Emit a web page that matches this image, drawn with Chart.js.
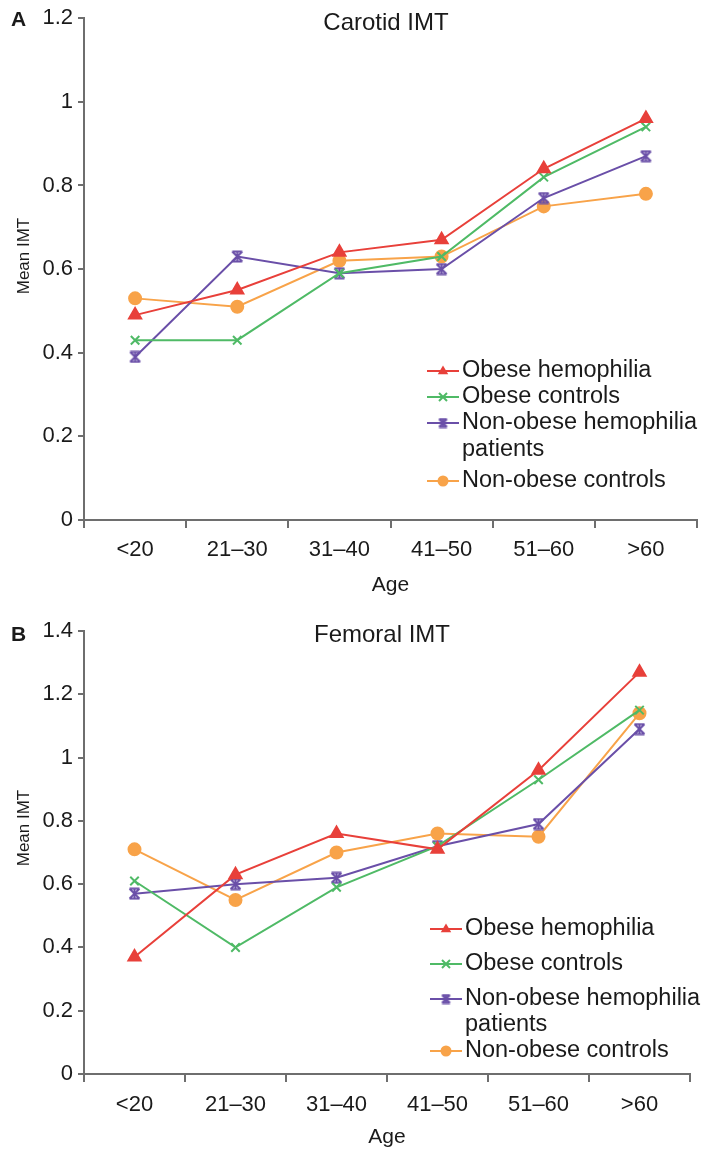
<!DOCTYPE html>
<html>
<head>
<meta charset="utf-8">
<style>
html,body{margin:0;padding:0;background:#fff;}
#wrap{position:relative;width:707px;height:1150px;overflow:hidden;}
.box{position:absolute;left:0;width:707px;}
canvas{display:block;}
</style>
<script src="https://cdn.jsdelivr.net/npm/chart.js"></script>
</head>
<body>
<div id="wrap">
  <div class="box" style="top:0;height:600px"><canvas id="c1" width="707" height="600"></canvas></div>
  <div class="box" style="top:600px;height:553px"><canvas id="c2" width="707" height="553"></canvas></div>
</div>
<script>
// ---------- data ----------
const ageGroups = ['<20', '21–30', '31–40', '41–50', '51–60', '>60'];
const seriesLabels = ['Obese hemophilia', 'Obese controls', 'Non-obese hemophilia patients', 'Non-obese controls'];
const legendTexts = [['Obese hemophilia'], ['Obese controls'], ['Non-obese hemophilia', 'patients'], ['Non-obese controls']];

const carotidObeseHemophilia    = [0.49, 0.55, 0.64, 0.67, 0.84, 0.96];
const carotidObeseControls      = [0.43, 0.43, 0.59, 0.63, 0.82, 0.94];
const carotidNonObeseHemophilia = [0.39, 0.63, 0.59, 0.60, 0.77, 0.87];
const carotidNonObeseControls   = [0.53, 0.51, 0.62, 0.63, 0.75, 0.78];

const femoralObeseHemophilia    = [0.37, 0.63, 0.76, 0.71, 0.96, 1.27];
const femoralObeseControls      = [0.61, 0.40, 0.59, 0.72, 0.93, 1.15];
const femoralNonObeseHemophilia = [0.57, 0.60, 0.62, 0.72, 0.79, 1.09];
const femoralNonObeseControls   = [0.71, 0.55, 0.70, 0.76, 0.75, 1.14];

const carotidYTicks = [0, 0.2, 0.4, 0.6, 0.8, 1, 1.2];
const femoralYTicks = [0, 0.2, 0.4, 0.6, 0.8, 1, 1.2, 1.4];

// ---------- styles ----------
const FONT = '"Liberation Sans", Arial, Helvetica, sans-serif';
const TXT = '#1a1a1a';
const AXIS = '#6e6e6e';
const colors = ['#e8403a', '#4fba66', '#6a4fa8', '#f8a349'];

function makeStar(color, size) {
  const c = document.createElement('canvas');
  c.width = size; c.height = size;
  const g = c.getContext('2d');
  const a = 1.5, b = size - 1.5, m = size / 2;
  g.strokeStyle = color; g.lineWidth = 2; g.lineCap = 'butt';
  g.beginPath();
  g.moveTo(a, a); g.lineTo(b, b);
  g.moveTo(b, a); g.lineTo(a, b);
  g.moveTo(m, 0.5); g.lineTo(m, size - 0.5);
  g.moveTo(a, a); g.lineTo(b, a);
  g.moveTo(a, b); g.lineTo(b, b);
  g.stroke();
  return c;
}
const starImg = makeStar(colors[2], 13);
const starLegendImg = makeStar(colors[2], 11);
const pointStyles = ['triangle', 'crossRot', starImg, 'circle'];
const pointRadii = [7, 6, 6, 6];

function drawMarker(ctx, idx, x, y) {
  const col = colors[idx];
  ctx.save();
  ctx.fillStyle = col; ctx.strokeStyle = col; ctx.lineWidth = 2;
  if (idx === 0) {
    const r = 5.5;
    ctx.beginPath();
    ctx.moveTo(x, y - r);
    ctx.lineTo(x + r * 0.95, y + r * 0.6);
    ctx.lineTo(x - r * 0.95, y + r * 0.6);
    ctx.closePath(); ctx.fill();
  } else if (idx === 1) {
    const r = 4;
    ctx.beginPath();
    ctx.moveTo(x - r, y - r); ctx.lineTo(x + r, y + r);
    ctx.moveTo(x + r, y - r); ctx.lineTo(x - r, y + r);
    ctx.stroke();
  } else if (idx === 2) {
    ctx.drawImage(starLegendImg, x - 5.5, y - 5.5, 11, 11);
  } else {
    ctx.beginPath(); ctx.arc(x, y, 5.5, 0, Math.PI * 2); ctx.fill();
  }
  ctx.restore();
}

const decorPlugin = {
  id: 'decor',
  afterDraw(chart, args, o) {
    const ctx = chart.ctx;
    ctx.save();
    ctx.fillStyle = TXT;
    ctx.textBaseline = 'middle';
    // panel letter
    ctx.textAlign = 'left';
    ctx.font = 'bold 21px ' + FONT;
    ctx.fillText(o.panel, o.panelX, o.panelY);
    // chart title
    ctx.font = '24px ' + FONT;
    ctx.textAlign = 'center';
    ctx.fillText(o.title, o.titleX, o.titleY);
    // y-axis title
    ctx.save();
    ctx.translate(o.yTitleX, o.yTitleY);
    ctx.rotate(-Math.PI / 2);
    ctx.font = '17px ' + FONT;
    ctx.textAlign = 'center';
    ctx.fillText('Mean IMT', 0, 0);
    ctx.restore();
    // legend
    ctx.font = '23.5px ' + FONT;
    ctx.textAlign = 'left';
    o.legendRows.forEach((rowY, i) => {
      ctx.strokeStyle = colors[i]; ctx.lineWidth = 2;
      ctx.beginPath();
      ctx.moveTo(o.legendX, rowY[0]); ctx.lineTo(o.legendX + 32, rowY[0]);
      ctx.stroke();
      drawMarker(ctx, i, o.legendX + 16, rowY[0]);
      ctx.fillStyle = TXT;
      legendTexts[i].forEach((t, k) => ctx.fillText(t, o.legendX + 35, rowY[k]));
    });
    ctx.restore();
  }
};

function makeChart(id, seriesData, yTicks, L) {
  const datasets = seriesData.map((d, i) => ({
    label: seriesLabels[i],
    data: d,
    borderColor: colors[i],
    backgroundColor: colors[i],
    borderWidth: 2,
    pointStyle: pointStyles[i],
    pointRadius: pointRadii[i],
    pointBorderWidth: 2,
    pointHoverRadius: pointRadii[i],
    tension: 0,
    fill: false
  }));
  return new Chart(document.getElementById(id), {
    type: 'line',
    data: { labels: ageGroups, datasets },
    plugins: [decorPlugin],
    options: {
      responsive: false,
      animation: false,
      devicePixelRatio: 1,
      layout: { padding: { left: 0, top: L.top, right: L.right, bottom: L.bottom } },
      plugins: {
        legend: { display: false },
        tooltip: { enabled: false },
        decor: L.decor
      },
      scales: {
        x: {
          type: 'category',
          offset: true,
          grid: { offset: true, drawOnChartArea: false, drawTicks: true, tickLength: 8, tickColor: AXIS, lineWidth: 2 },
          border: { display: true, color: AXIS, width: 2 },
          ticks: { color: TXT, font: { family: FONT, size: 22 }, padding: L.xPad, maxRotation: 0, autoSkip: false },
          title: { display: true, text: 'Age', color: TXT, font: { family: FONT, size: 21 }, padding: { top: 0, bottom: 0 } },
          afterFit: s => { s.height = L.xHeight; }
        },
        y: {
          min: yTicks[0],
          max: yTicks[yTicks.length - 1],
          afterBuildTicks: s => { s.ticks = yTicks.map(v => ({ value: v })); },
          grid: { drawOnChartArea: false, drawTicks: true, tickLength: 6, tickColor: AXIS, lineWidth: 2 },
          border: { display: true, color: AXIS, width: 2 },
          ticks: {
            color: TXT, font: { family: FONT, size: 22 }, padding: 5,
            callback: v => String(Math.round(v * 10) / 10)
          },
          afterFit: s => { s.width = 84; }
        }
      }
    }
  });
}

makeChart('c1',
  [carotidObeseHemophilia, carotidObeseControls, carotidNonObeseHemophilia, carotidNonObeseControls],
  carotidYTicks,
  { top: 17, right: 10, bottom: 2, xHeight: 78, xPad: 9,
    decor: { panel: 'A', panelX: 11, panelY: 20, title: 'Carotid IMT', titleX: 386, titleY: 23,
             yTitleX: 24, yTitleY: 256,
             legendX: 427, legendRows: [[371], [397], [423, 450], [481]] } });

makeChart('c2',
  [femoralObeseHemophilia, femoralObeseControls, femoralNonObeseHemophilia, femoralNonObeseControls],
  femoralYTicks,
  { top: 31, right: 17, bottom: 3, xHeight: 76, xPad: 10,
    decor: { panel: 'B', panelX: 11, panelY: 35, title: 'Femoral IMT', titleX: 382, titleY: 35,
             yTitleX: 24, yTitleY: 228,
             legendX: 430, legendRows: [[329], [364], [399, 425], [451]] } });
</script>
</body>
</html>
